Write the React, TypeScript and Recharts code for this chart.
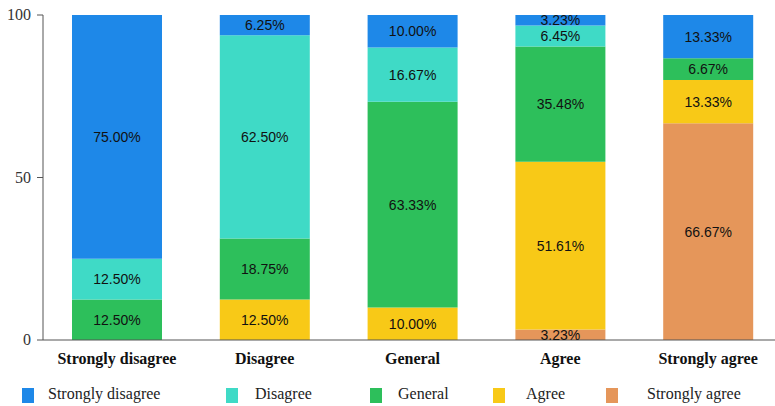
import React from 'react';
import { BarChart, Bar, XAxis, YAxis, Legend, LabelList } from 'recharts';

const categories = ['Strongly disagree', 'Disagree', 'General', 'Agree', 'Strongly agree'];
// percentages of each answer within every category
const stronglyAgree = [0, 0, 0, 3.23, 66.67];
const agree = [0, 12.5, 10, 51.61, 13.33];
const general = [12.5, 18.75, 63.33, 35.48, 6.67];
const disagree = [12.5, 62.5, 16.67, 6.45, 0];
const stronglyDisagree = [75, 6.25, 10, 3.23, 13.33];
const yTicks = [0, 50, 100];

const series = [
  { key: 'sa', name: 'Strongly agree', values: stronglyAgree, color: '#E5965A' },
  { key: 'a', name: 'Agree', values: agree, color: '#F8C917' },
  { key: 'g', name: 'General', values: general, color: '#2DBF5B' },
  { key: 'd', name: 'Disagree', values: disagree, color: '#3FDAC6' },
  { key: 'sd', name: 'Strongly disagree', values: stronglyDisagree, color: '#1E88E8' },
];

const data = categories.map((c, i) => {
  const row: Record<string, string | number> = { category: c };
  series.forEach(s => { row[s.key] = s.values[i]; });
  return row;
});

const legendPos = [
  { icon: 22, text: 48 },
  { icon: 226, text: 255 },
  { icon: 370, text: 398 },
  { icon: 493, text: 526 },
  { icon: 606, text: 647 },
];

const serif = 'Liberation Serif, Times New Roman, serif';

const fmt = (v: any) => (v ? Number(v).toFixed(2) + '%' : '');

function XTick(props: any) {
  const { x, y, payload } = props;
  return (
    <text x={x} y={y + 16} textAnchor="middle" fontFamily={serif} fontSize={16} fontWeight="bold" fill="#111">
      {payload.value}
    </text>
  );
}

function YTick(props: any) {
  const { x, y, payload } = props;
  return (
    <text x={x - 4} y={y + 5} textAnchor="end" fontFamily={serif} fontSize={16} fill="#333">
      {payload.value}
    </text>
  );
}

function LegendBox() {
  const items = [...series].reverse();
  return (
    <div style={{ position: 'relative', width: 775, height: 40 }}>
      {items.map((s, i) => (
        <React.Fragment key={s.key}>
          <div style={{ position: 'absolute', left: legendPos[i].icon, top: 22, width: 12, height: 15, background: s.color }} />
          <div style={{ position: 'absolute', left: legendPos[i].text, top: 19, fontFamily: serif, fontSize: 16, color: '#222', whiteSpace: 'nowrap' }}>
            {s.name}
          </div>
        </React.Fragment>
      ))}
    </div>
  );
}

export default function App() {
  return (
    <div style={{ position: 'absolute', left: 0, top: 0, width: 775, height: 406, overflow: 'hidden', background: '#fff' }}>
      <BarChart width={790} height={406} data={data} margin={{ top: 15, right: 8, bottom: 0, left: 0 }}>
        <XAxis
          dataKey="category"
          axisLine={{ stroke: '#555' }}
          tickLine={false}
          height={26}
          tick={<XTick />}
        />
        <YAxis
          domain={[0, 100]}
          ticks={yTicks}
          width={43}
          axisLine={{ stroke: '#555' }}
          tickLine={{ stroke: '#555' }}
          tick={<YTick />}
        />
        <Legend verticalAlign="bottom" height={40} wrapperStyle={{ left: 0, width: 775 }} content={() => <LegendBox />} />
        {series.map(s => (
          <Bar key={s.key} dataKey={s.key} name={s.name} stackId="all" fill={s.color} barSize={90} isAnimationActive={false}>
            <LabelList dataKey={s.key} position="center" formatter={fmt} style={{ fontFamily: '"Liberation Sans", Arial, sans-serif', fontSize: 14, fill: '#111' }} />
          </Bar>
        ))}
      </BarChart>
    </div>
  );
}
